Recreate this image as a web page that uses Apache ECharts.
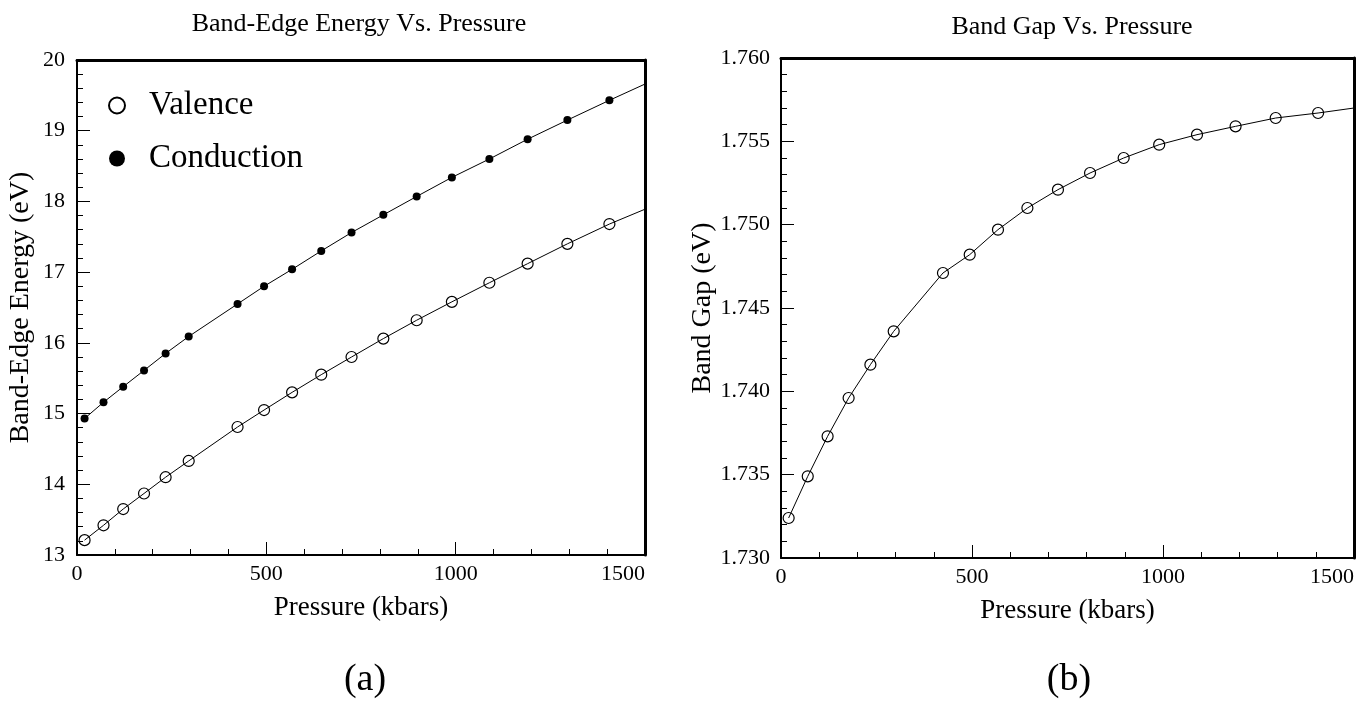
<!DOCTYPE html>
<html>
<head>
<meta charset="utf-8">
<script src="https://cdn.jsdelivr.net/npm/echarts@6/dist/echarts.min.js"></script>
<style>
  html, body { margin: 0; padding: 0; background: #fff; }
  #chart { width: 1362px; height: 723px; }
</style>
</head>
<body>
<div id="chart"></div>
<script>
// pressure points shared by both panels (kbars)
const pressure = [20, 70, 122, 177, 234, 295, 424, 494, 568, 645, 725, 809, 897, 990, 1089, 1190, 1295, 1406];
const valence = [13.21, 13.42, 13.65, 13.87, 14.10, 14.33, 14.81, 15.05, 15.30, 15.55, 15.80, 16.06, 16.32, 16.58, 16.85, 17.12, 17.40, 17.68];
const conduction = [14.93, 15.16, 15.38, 15.61, 15.85, 16.09, 16.55, 16.80, 17.04, 17.30, 17.56, 17.81, 18.07, 18.34, 18.60, 18.88, 19.15, 19.43];
const bandGap = [1.7324, 1.7349, 1.7373, 1.7396, 1.7416, 1.7436, 1.7471, 1.7482, 1.7497, 1.7510, 1.7521, 1.7531, 1.7540, 1.7548, 1.7554, 1.7559, 1.7564, 1.7567];
// where the fitted curves leave the frame at 1500 kbars
const curveEndP = 1500;
const valenceEnd = 17.89;
const conductionEnd = 19.66;
const bandGapEnd = 1.7570;

const font = "'Liberation Serif', 'Times New Roman', serif";

function withEnd(ys, endY) {
  const d = pressure.map((p, i) => [p, ys[i]]);
  d.push({ value: [curveEndP, endY], symbol: 'none' });
  return d;
}

function bottomAxis(grid) {
  return {
    type: 'value', gridIndex: grid, min: 0, max: 1500, interval: 500,
    name: 'Pressure (kbars)', nameLocation: 'middle', nameGap: 39,
    nameTextStyle: { fontFamily: font, fontSize: 27, color: '#000' },
    axisLine: { lineStyle: { color: '#000', width: 2 } },
    axisTick: { inside: true, length: 13, lineStyle: { color: '#000', width: 1 } },
    minorTick: { show: true, splitNumber: 5, length: 6, lineStyle: { color: '#000', width: 1 } },
    axisLabel: { fontFamily: font, fontSize: 22, color: '#000', margin: 8, alignMaxLabel: 'right',
      formatter: v => String(v) },
    splitLine: { show: false }
  };
}

function frameAxis(kind, grid, min, max) {
  return {
    type: 'value', gridIndex: grid, min: min, max: max,
    position: kind === 'x' ? 'top' : 'right',
    axisLine: { show: true, onZero: false, lineStyle: { color: '#000', width: 3 } },
    axisTick: { show: false }, axisLabel: { show: false }, splitLine: { show: false }
  };
}

const chart = echarts.init(document.getElementById('chart'));
chart.setOption({
  backgroundColor: '#fff',
  animation: false,
  title: [
    { text: 'Band-Edge Energy Vs. Pressure', left: 354, top: 6, textAlign: 'center',
      textStyle: { fontFamily: font, fontSize: 26, fontWeight: 'normal', color: '#000' } },
    { text: 'Band Gap Vs. Pressure', left: 1067, top: 9, textAlign: 'center',
      textStyle: { fontFamily: font, fontSize: 26, fontWeight: 'normal', color: '#000' } },
    { text: '(a)', left: 360, top: 656, textAlign: 'center',
      textStyle: { fontFamily: font, fontSize: 38, fontWeight: 'normal', color: '#000' } },
    { text: '(b)', left: 1064, top: 656, textAlign: 'center',
      textStyle: { fontFamily: font, fontSize: 38, fontWeight: 'normal', color: '#000' } }
  ],
  legend: {
    orient: 'vertical', left: 103, top: 84, itemWidth: 54, itemHeight: 16, itemGap: 20,
    symbolKeepAspect: true,
    textStyle: { fontFamily: font, fontSize: 33, color: '#000' },
    data: [
      { name: 'Valence', icon: 'circle', itemStyle: { color: 'rgba(0,0,0,0)', borderColor: '#000', borderWidth: 2 } },
      { name: 'Conduction', icon: 'circle', itemStyle: { color: '#000' } }
    ]
  },
  grid: [
    { left: 77, top: 60, width: 568, height: 495 },
    { left: 781, top: 58, width: 573, height: 500 }
  ],
  xAxis: [bottomAxis(0), bottomAxis(1), frameAxis('x', 0, 0, 1500), frameAxis('x', 1, 0, 1500)],
  yAxis: [
    {
      type: 'value', gridIndex: 0, min: 13, max: 20, interval: 1,
      name: 'Band-Edge Energy (eV)', nameLocation: 'middle', nameGap: 42,
      nameTextStyle: { fontFamily: font, fontSize: 28, color: '#000' },
      axisLine: { lineStyle: { color: '#000', width: 2 } },
      axisTick: { inside: true, length: 13, lineStyle: { color: '#000', width: 1 } },
      minorTick: { show: true, splitNumber: 5, length: 6, lineStyle: { color: '#000', width: 1 } },
      axisLabel: { fontFamily: font, fontSize: 22, color: '#000', margin: 12 },
      splitLine: { show: false }
    },
    {
      type: 'value', gridIndex: 1, min: 1.730, max: 1.760, interval: 0.005,
      name: 'Band Gap (eV)', nameLocation: 'middle', nameGap: 64,
      nameTextStyle: { fontFamily: font, fontSize: 28, color: '#000' },
      axisLine: { lineStyle: { color: '#000', width: 2 } },
      axisTick: { inside: true, length: 13, lineStyle: { color: '#000', width: 1 } },
      minorTick: { show: true, splitNumber: 5, length: 6, lineStyle: { color: '#000', width: 1 } },
      axisLabel: { fontFamily: font, fontSize: 22, color: '#000', margin: 11, formatter: v => v.toFixed(3) },
      splitLine: { show: false }
    },
    frameAxis('y', 0, 13, 20),
    frameAxis('y', 1, 1.730, 1.760)
  ],
  series: [
    {
      name: 'Valence', type: 'line', xAxisIndex: 0, yAxisIndex: 0,
      data: withEnd(valence, valenceEnd),
      symbol: 'circle', symbolSize: [11, 11],
      itemStyle: { color: 'rgba(0,0,0,0)', borderColor: '#000', borderWidth: 1.2 },
      lineStyle: { color: '#000', width: 1 }
    },
    {
      name: 'Conduction', type: 'line', xAxisIndex: 0, yAxisIndex: 0,
      data: withEnd(conduction, conductionEnd),
      symbol: 'circle', symbolSize: 8,
      itemStyle: { color: '#000' },
      lineStyle: { color: '#000', width: 1 }
    },
    {
      name: 'Band Gap', type: 'line', xAxisIndex: 1, yAxisIndex: 1,
      data: withEnd(bandGap, bandGapEnd),
      symbol: 'circle', symbolSize: [11, 11],
      itemStyle: { color: 'rgba(0,0,0,0)', borderColor: '#000', borderWidth: 1.2 },
      lineStyle: { color: '#000', width: 1 }
    }
  ]
});
</script>
</body>
</html>
